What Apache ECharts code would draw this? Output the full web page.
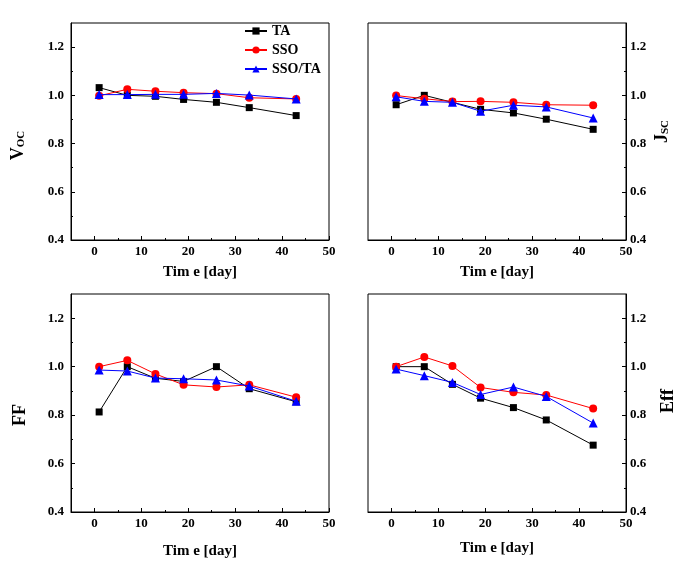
<!DOCTYPE html>
<html><head><meta charset="utf-8">
<script src="https://cdn.jsdelivr.net/npm/echarts@6/dist/echarts.min.js"></script>
<style>html,body{margin:0;padding:0;background:#fff}#c{width:695px;height:574px}</style>
</head><body><div id="c"></div>
<script>
const days = [1, 7, 13, 19, 26, 33, 43];
const seriesNames = ['TA', 'SSO', 'SSO/TA'];
const xMajorTicks = [0, 10, 20, 30, 40, 50];
const xMinorTicks = [5, 15, 25, 35, 45];
const yMajorTicks = [0.4, 0.6, 0.8, 1.0, 1.2];
const yMinorTicks = [0.5, 0.7, 0.9, 1.1];

const vocTA    = [1.032, 1.000, 0.996, 0.983, 0.971, 0.949, 0.916];
const vocSSO   = [0.998, 1.025, 1.017, 1.011, 1.007, 0.990, 0.985];
const vocSSOTA = [1.003, 1.003, 1.004, 1.004, 1.008, 1.001, 0.985];

const jscTA    = [0.961, 1.000, 0.971, 0.942, 0.927, 0.901, 0.859];
const jscSSO   = [0.999, 0.986, 0.974, 0.975, 0.971, 0.961, 0.959];
const jscSSOTA = [0.994, 0.975, 0.971, 0.934, 0.959, 0.952, 0.906];

const ffTA     = [0.813, 1.000, 0.952, 0.939, 1.000, 0.909, 0.855];
const ffSSO    = [1.000, 1.026, 0.970, 0.925, 0.916, 0.925, 0.874];
const ffSSOTA  = [0.986, 0.982, 0.953, 0.950, 0.945, 0.920, 0.857];

const effTA    = [1.000, 1.000, 0.927, 0.870, 0.831, 0.780, 0.676];
const effSSO   = [1.000, 1.040, 1.003, 0.914, 0.894, 0.883, 0.827];
const effSSOTA = [0.990, 0.963, 0.935, 0.885, 0.916, 0.877, 0.767];

const panels = [
  {data: [vocTA, vocSSO, vocSSOTA], name: '{a|V}{b|OC}', side: 'left'},
  {data: [jscTA, jscSSO, jscSSOTA], name: '{a|J}{b|SC}', side: 'right'},
  {data: [ffTA, ffSSO, ffSSOTA], name: '{a|FF}', side: 'left'},
  {data: [effTA, effSSO, effSSOTA], name: '{a|Eff}', side: 'right'}
];
const colors = ['#000000', '#ff0000', '#0000ff'];
const symbols = ['rect', 'circle', 'triangle'];
const symbolSizes = [7, 8, 9];
const FONT = '"Liberation Serif", "Times New Roman", serif';

const gridRects = [
  {left: 71, top: 23, width: 258, height: 217},
  {left: 368, top: 23, width: 258, height: 217},
  {left: 71, top: 294, width: 258, height: 218},
  {left: 368, top: 294, width: 258, height: 218}
];
const xNameGaps = [25, 25, 32, 29];
const yNameGaps = [44, 27, 42, 33];
const yNamePads = [[0, 28, 0, 0], [0, 0, 0, 0], [0, 24, 0, 0], [0, 0, 0, 4]];

const grid = [], xAxis = [], yAxis = [], series = [];
panels.forEach((p, i) => {
  grid.push(Object.assign({show: true, borderColor: '#000', borderWidth: 1, backgroundColor: 'transparent'}, gridRects[i]));
  xAxis.push({
    type: 'value', gridIndex: i, min: -5, max: 50, position: 'bottom',
    name: 'Tim e [day]', nameLocation: 'middle', nameGap: xNameGaps[i],
    nameTextStyle: {fontFamily: FONT, fontWeight: 'bold', fontSize: 15, color: '#000'},
    axisLine: {onZero: false, lineStyle: {color: '#000', width: 1}},
    axisTick: {inside: true, length: 4, customValues: xMajorTicks, lineStyle: {color: '#000'}},
    axisLabel: {customValues: xMajorTicks, margin: 5, fontFamily: FONT, fontWeight: 'bold', fontSize: 13, color: '#000'},
    splitLine: {show: false}
  });
  xAxis.push({
    type: 'value', gridIndex: i, min: -5, max: 50, position: 'bottom',
    axisLine: {show: false, onZero: false},
    axisTick: {inside: true, length: 2, customValues: xMinorTicks, lineStyle: {color: '#000'}},
    axisLabel: {show: false}, splitLine: {show: false}
  });
  yAxis.push({
    type: 'value', gridIndex: i, min: 0.4, max: 1.3, position: p.side,
    name: p.name, nameLocation: 'middle', nameGap: yNameGaps[i], nameRotate: 90,
    nameTextStyle: {
      color: '#000', padding: yNamePads[i],
      rich: {
        a: {fontFamily: FONT, fontWeight: 'bold', fontSize: 18, color: '#000'},
        b: {fontFamily: FONT, fontWeight: 'bold', fontSize: 11, color: '#000', verticalAlign: 'bottom', padding: [6, 0, 0, 0]}
      }
    },
    axisLine: {show: true, onZero: false, lineStyle: {color: '#000', width: 1}},
    axisTick: {inside: true, length: 4, customValues: yMajorTicks, lineStyle: {color: '#000'}},
    axisLabel: {customValues: yMajorTicks, margin: p.side === 'left' ? 7 : 4, fontFamily: FONT, fontWeight: 'bold', fontSize: 13, color: '#000',
      formatter: v => v.toFixed(1)},
    splitLine: {show: false}
  });
  yAxis.push({
    type: 'value', gridIndex: i, min: 0.4, max: 1.3, position: p.side,
    axisLine: {show: false, onZero: false},
    axisTick: {inside: true, length: 2, customValues: yMinorTicks, lineStyle: {color: '#000'}},
    axisLabel: {show: false}, splitLine: {show: false}
  });
  p.data.forEach((arr, k) => {
    series.push({
      type: 'line', name: seriesNames[k], xAxisIndex: 2 * i, yAxisIndex: 2 * i,
      data: days.map((d, j) => [d, arr[j]]),
      symbol: symbols[k], symbolSize: symbolSizes[k], showSymbol: true,
      color: colors[k],
      lineStyle: {color: colors[k], width: 1},
      itemStyle: {color: colors[k]},
      animation: false, z: 2 + k
    });
  });
});

const chart = echarts.init(document.getElementById('c'), null, {renderer: 'canvas'});
chart.setOption({
  backgroundColor: '#fff',
  animation: false,
  grid, xAxis, yAxis, series,
  legend: {
    data: seriesNames, orient: 'vertical', left: 244, top: 24, itemGap: 5, padding: 0,
    itemWidth: 22, itemHeight: 9,
    textStyle: {fontFamily: FONT, fontWeight: 'bold', fontSize: 14, color: '#000'}
  }
});
</script></body></html>
